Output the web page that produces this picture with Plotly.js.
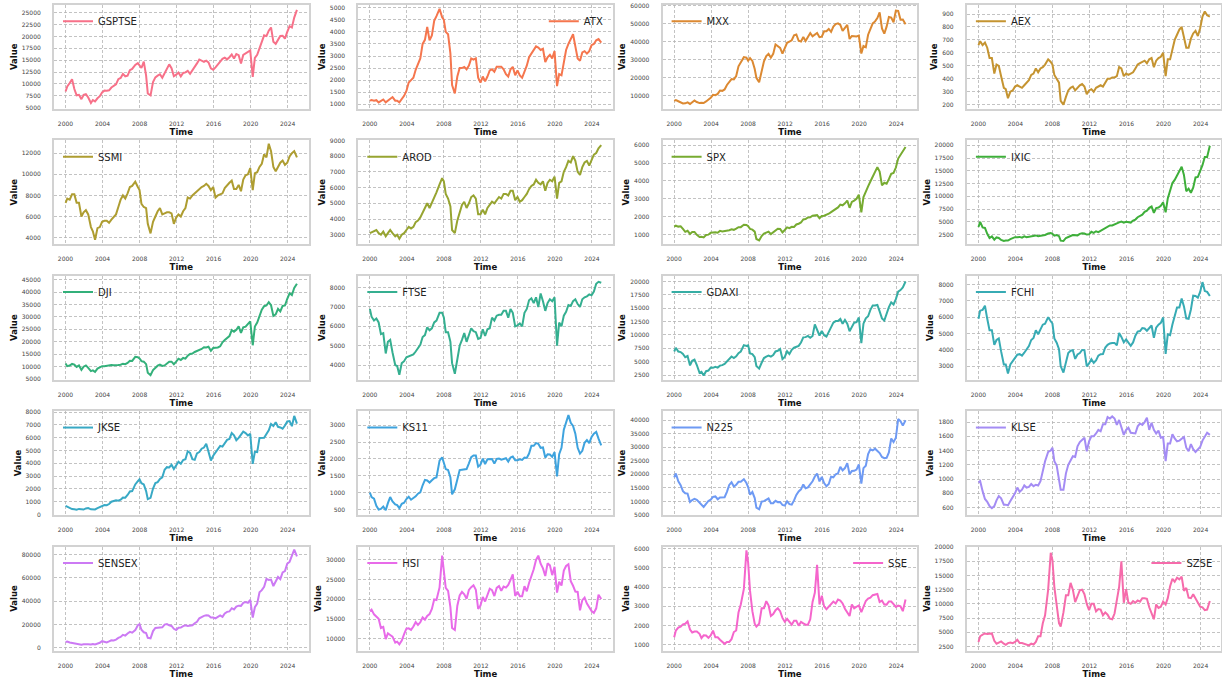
<!DOCTYPE html>
<html><head><meta charset="utf-8">
<script src="https://cdn.plot.ly/plotly-3.0.1.min.js"></script>
<style>html,body{margin:0;padding:0;background:#fff;} #chart{width:1222px;height:683px;}</style>
</head><body><div id="chart"></div>
<script>
const dates = [
 "2000-01-04","2000-03-10","2000-06-15","2000-09-15","2000-12-15",
 "2001-03-15","2001-06-15","2001-09-20","2001-12-15",
 "2002-03-15","2002-06-15","2002-09-30","2002-12-15",
 "2003-03-12","2003-06-15","2003-09-15","2003-12-15",
 "2004-03-15","2004-06-15","2004-09-15","2004-12-15",
 "2005-03-15","2005-06-15","2005-09-15","2005-12-15",
 "2006-03-15","2006-06-15","2006-09-15","2006-12-15",
 "2007-03-15","2007-07-15","2007-10-25","2007-12-31",
 "2008-03-15","2008-06-15","2008-09-15","2008-11-20",
 "2009-03-09","2009-06-15","2009-09-15","2009-12-15",
 "2010-03-15","2010-06-15","2010-09-15","2010-12-15",
 "2011-03-15","2011-06-15","2011-09-15","2011-12-15",
 "2012-03-15","2012-06-15","2012-09-15","2012-12-15",
 "2013-03-15","2013-06-15","2013-09-15","2013-12-15",
 "2014-03-15","2014-06-15","2014-09-15","2014-12-15",
 "2015-03-15","2015-06-12","2015-09-15","2015-12-15",
 "2016-03-15","2016-06-15","2016-09-15","2016-12-15",
 "2017-03-15","2017-06-15","2017-09-15","2017-12-15",
 "2018-03-15","2018-06-15","2018-09-15","2018-12-15",
 "2019-03-15","2019-06-15","2019-09-15","2019-12-15",
 "2020-03-23","2020-06-15","2020-09-15","2020-12-15",
 "2021-03-15","2021-06-15","2021-09-15","2021-12-15",
 "2022-03-15","2022-06-15","2022-09-15","2022-12-15",
 "2023-03-15","2023-06-15","2023-09-15","2023-12-15",
 "2024-03-15","2024-06-15","2024-09-15","2024-12-31"
];

const names = ["GSPTSE","ATX","MXX","AEX","SSMI","AROD","SPX","IXIC","DJI","FTSE","GDAXI","FCHI",
               "JKSE","KS11","N225","KLSE","SENSEX","HSI","SSE","SZSE"];

const GSPTSE = [8400,9460,10200,11000,8930, 7600,7700,6800,7690, 7850,7150,6000,6610, 6340,6980,7420,8220,
 8590,8550,8670,9250, 9610,9900,11010,11270, 12110,11610,11760,12910, 13160,14000,14400,13830,
 13350,14700,11750,8000, 7600,10380,11390,11750, 12040,11290,12370,13440, 14120,13300,11620,11950,
 12390,11600,12320,12430, 12750,12130,12790,13620, 14330,15150,14960,14630, 14900,14550,13300,13010,
 13490,14060,14730,15290, 15550,15180,15630,16210, 15370,16280,16070,14320, 16100,16380,16660,17060,
 11500,15500,16120,17430, 18700,20230,20070,21220, 21890,18860,18440,19380, 20100,20150,19540,20960,
 22170,21880,23960,25600];
const ATX = [1150,1180,1150,1170,1080, 1150,1200,1080,1140, 1200,1300,1150,1150, 1080,1230,1350,1550,
 1900,2000,2100,2430, 2650,2900,3500,3670, 4200,3650,3850,4460, 4650,4950,4600,4500,
 4000,3900,3100,1800, 1450,2150,2500,2500, 2550,2450,2600,2900, 2850,2900,2100,1900,
 2150,1950,2150,2400, 2450,2350,2550,2550, 2550,2450,2250,2150, 2450,2550,2200,2400,
 2200,2100,2350,2600, 2950,3100,3300,3400, 3350,3250,3300,2750, 2950,3050,2900,3200,
 1750,2250,2200,2800, 3250,3500,3700,3900, 3400,2900,2800,3150, 3200,3100,3200,3450,
 3500,3650,3700,3550];
const MXX = [7100,7500,6900,6400,5650, 5750,6300,5400,6400, 7300,6500,5900,6100, 5900,6800,7800,8800,
 10500,10300,11000,12900, 12700,13500,16000,17800, 19300,19100,21000,26400, 28700,31500,31200,29500,
 30900,29400,24900,20000, 17500,24400,29200,32100, 33300,31200,33300,38500, 37400,36600,33500,37000,
 39500,40200,40900,43700, 44100,40600,40200,42700, 40500,42700,44900,43100, 43900,45000,42600,42900,
 45900,45900,47200,45600, 48500,49900,50300,49400, 46100,47700,49500,41600, 43300,43200,43000,43500,
 33500,37700,37000,44000, 47200,50300,51400,53300, 56500,47500,44600,48500, 53900,53500,50900,57400,
 57300,52400,52500,49800];
const AEX = [660,690,660,680,640, 560,560,440,510, 500,420,330,320, 250,300,310,340,
 350,340,330,350, 370,390,430,440, 480,450,480,490, 510,550,530,510,
 430,400,370,230, 200,260,310,330, 340,310,330,350, 360,340,280,310,
 320,300,330,340, 350,340,370,400, 400,410,410,420, 490,480,420,440,
 430,440,450,480, 510,520,530,540, 520,550,560,490, 540,560,570,600,
 420,550,550,620, 700,740,780,800, 720,640,640,710, 750,770,730,790,
 880,920,890,880];
const SSMI = [7300,7700,7600,8100,8100, 7300,7300,6000,6400, 6600,6200,5000,4600, 3800,4900,5000,5500,
 5600,5600,5400,5700, 5900,6200,6900,7600, 8000,7700,8200,8800, 8900,9300,8800,8500,
 7200,6900,6800,5300, 4400,5500,6000,6500, 6800,6200,6300,6400, 6400,6300,5300,5900,
 6200,6000,6500,6800, 7800,7700,8000,8200, 8400,8600,8800,8900, 9100,8900,8500,8800,
 7800,8000,8100,8200, 8700,9000,9200,9400, 8600,8600,9000,8400, 9500,9900,10000,10600,
 8500,10100,10200,10700, 11000,11900,11600,12900, 12200,10700,10300,10700, 11100,11300,10900,11100,
 11700,12000,12200,11600];
const AROD = [3100,3150,3200,3300,3100, 3000,3200,2900,3100, 3300,3100,2900,3000, 2750,3000,3100,3300,
 3500,3400,3500,3800, 3900,4100,4400,4600, 5000,4700,5000,5400, 5700,6200,6600,6400,
 5600,5300,4800,3300, 3100,3900,4500,4900, 5100,4700,5000,5400, 5500,5300,4300,4300,
 4600,4300,4700,4900, 5100,5000,5200,5400, 5300,5600,5600,5500, 5800,5800,5200,5400,
 5100,5200,5400,5600, 5900,6100,6200,6500, 6300,6200,6400,5800, 6300,6500,6400,6700,
 5300,6300,6400,7000, 7300,7700,7600,8000, 7700,7000,6800,7300, 7600,7700,7400,7800,
 8100,8200,8500,8700];
const SPX = [1450,1500,1450,1470,1320, 1160,1220,1040,1150, 1150,990,870,880, 850,980,1000,1110,
 1130,1140,1110,1210, 1180,1190,1230,1250, 1300,1270,1340,1420, 1420,1550,1540,1470,
 1320,1280,1170,760, 680,920,1060,1115, 1170,1030,1140,1260, 1330,1320,1130,1260,
 1410,1360,1440,1430, 1570,1610,1680,1850, 1870,1960,1970,2060, 2070,2090,1920,2040,
 2060,2100,2170,2260, 2360,2420,2520,2680, 2640,2750,2900,2500, 2830,2900,3000,3230,
 2240,3100,3360,3700, 3970,4250,4450,4770, 4530,3750,3900,3850, 4100,4400,4450,4750,
 5250,5450,5650,5900];
const IXIC = [4000,5000,3900,3800,2650, 1840,2160,1500,1950, 1850,1460,1250,1340, 1340,1620,1790,2000,
 1990,2050,1900,2170, 2000,2060,2150,2200, 2340,2170,2260,2420, 2420,2700,2800,2650,
 2280,2400,2200,1320, 1270,1840,2120,2230, 2400,2300,2350,2650, 2780,2700,2500,2550,
 3060,2850,3150,2980, 3250,3450,3720,4050, 4300,4300,4550,4750, 4900,5050,4850,5000,
 4850,4850,5250,5450, 5900,6150,6400,6950, 7200,7750,8000,6750, 7700,7800,8150,8800,
 6860,9600,11000,12600, 13200,14100,15000,15800, 14200,11000,11500,10700, 11700,13700,13800,14800,
 16100,17700,17700,19900];
const DJI = [11300,10200,10450,11100,10800, 9900,10500,8700,10000, 10500,9500,8200,8500, 7900,9200,9600,10200,
 10200,10400,10300,10700, 10600,10500,10650,10800, 11200,11000,11500,12400, 12300,13950,13800,13300,
 12200,12000,11000,7600, 6600,8600,9700,10400, 10800,10300,10500,11400, 12000,12000,11000,12000,
 13200,12700,13500,13200, 14400,15100,15300,15900, 16200,16800,17100,17800, 17700,18000,16400,17500,
 17500,17700,18200,19800, 20700,21400,22300,24700, 24000,24800,26200,23600, 25800,26100,27200,28200,
 18600,26100,27700,30200, 32900,34300,34600,35900, 34700,30400,31000,33200, 32200,34400,34600,37300,
 39500,38800,41600,43300];
const FTSE = [6900,6500,6300,6400,6200, 5600,5650,4600,5200, 5300,4650,4000,3950, 3500,4100,4200,4400,
 4450,4500,4550,4700, 4900,5050,5450,5550, 5950,5800,5900,6200, 6300,6700,6700,6460,
 5700,5700,5200,4100, 3550,4350,5000,5300, 5650,5200,5550,5900, 5750,5700,5350,5400,
 5850,5500,5850,5900, 6450,6300,6550,6600, 6600,6800,6800,6450, 6900,6700,6000,6050,
 6150,6000,6700,6900, 7350,7450,7200,7500, 7000,7700,7300,6800, 7200,7400,7300,7500,
 5000,6200,6000,6550, 6750,7100,7050,7300, 7400,7150,7000,7400, 7500,7550,7650,7600,
 7800,8200,8300,8250];
const GDAXI = [6900,7600,6900,6800,6430, 5830,6060,4300,5160, 5400,4380,2900,3100, 2400,3220,3350,3900,
 3850,4050,3890,4260, 4350,4590,5040,5410, 5970,5680,6000,6600, 6900,8100,7950,8070,
 6530,6420,5830,4200, 3700,4800,5680,5960, 6150,5960,6230,6910, 7040,7370,5500,5900,
 6950,6420,7220,7610, 7800,7960,8600,9550, 9590,9830,9470,9800, 11970,11060,9900,10740,
 9960,9680,10510,11480, 12310,12600,12600,13000, 12100,12800,12100,10700, 11500,12300,12400,13250,
 8450,12100,13100,13500, 14700,15500,15500,15600, 14400,13100,12700,14000, 15200,16100,15700,16700,
 18100,18400,18900,20000];
const FCHI = [5900,6400,6450,6700,5900, 5200,5200,4300,4600, 4700,3900,3100,3100, 2550,3100,3300,3560,
 3700,3730,3640,3820, 4050,4230,4600,4720, 5200,4950,5250,5540, 5600,6000,5750,5610,
 4700,4430,4030,3000, 2600,3140,3800,3940, 3970,3440,3710,3800, 3990,3980,2980,3160,
 3420,3200,3350,3640, 3730,3740,4140,4300, 4390,4420,4420,4270, 5030,4790,4460,4640,
 4400,4240,4450,4860, 5120,5150,5330,5310, 5170,5320,5490,4730, 5350,5540,5650,5980,
 3750,4950,4900,5550, 6060,6600,6600,7150, 6660,5920,5900,6470, 7320,7300,7200,7550,
 8150,7600,7550,7300];
const JKSE = [680,600,520,430,420, 380,440,390,390, 480,510,410,420, 400,500,600,690,
 740,730,820,1000, 1080,1120,1080,1160, 1320,1310,1530,1800, 1830,2350,2600,2750,
 2450,2350,1830,1200, 1300,2030,2460,2530, 2780,2910,3500,3700, 3680,3890,3550,3820,
 4120,3960,4260,4320, 4940,4820,4320,4270, 4770,4880,5140,5230, 5520,4910,4220,4590,
 4850,5020,5360,5300, 5570,5830,5900,6360, 6190,5800,5980,6190, 6470,6360,6170,6300,
 3950,4900,4870,5980, 5990,5990,6290,6580, 7070,6910,7200,6850, 6800,6700,6950,7270,
 7300,6900,7700,7100];
const KS11 = [1000,870,820,610,500, 520,590,480,690, 870,740,650,630, 540,670,700,810,
 880,790,840,890, 970,1010,1220,1380, 1360,1300,1370,1430, 1450,1950,2050,1900,
 1700,1670,1450,950, 1100,1390,1670,1680, 1690,1700,1870,2050, 2100,2100,1770,1830,
 2010,1850,1990,1990, 2000,1860,2000,2010, 1980,2000,2020,1920, 2040,2070,1960,1960,
 1990,1970,2040,2030, 2160,2390,2390,2470, 2450,2330,2340,2040, 2140,2130,2060,2200,
 1480,2140,2330,2870, 3060,3300,3070,2980, 2750,2330,2160,2240, 2480,2560,2470,2650,
 2750,2800,2600,2400];
const N225 = [18900,20300,17400,16000,13800, 13000,12900,9800,10500, 11000,10600,9400,8600, 7970,9080,10200,10680,
 11700,11860,10820,11490, 11670,11580,13570,16100, 17060,15500,16130,17230, 17290,18200,16800,15300,
 12500,13480,11260,7700, 7100,9960,10130,10550, 11090,9380,9370,10230, 9760,9820,8700,8450,
 10080,9000,8870,10400, 12400,13680,14460,16290, 14830,15160,16170,17450, 19200,20240,17390,19030,
 16760,15580,16450,19110, 18910,20030,20360,22760, 21450,22300,24120,20010, 21200,21280,21750,23660,
 16550,22290,23180,27440, 29180,28790,29450,28790, 27820,26390,25940,26090, 28040,33190,31860,33460,
 40370,39580,37920,39890];
const KLSE = [950,970,830,720,680, 620,590,620,700, 760,730,640,640, 630,690,740,800,
 880,820,850,910, 880,890,930,900, 920,910,970,1100, 1250,1380,1400,1440,
 1250,1190,1020,850, 850,1080,1200,1270, 1320,1310,1460,1520, 1550,1580,1390,1530,
 1600,1600,1640,1690, 1670,1770,1770,1870, 1850,1880,1850,1760, 1830,1710,1620,1690,
 1720,1650,1650,1640, 1740,1780,1760,1800, 1860,1690,1790,1690, 1640,1680,1580,1590,
 1250,1500,1500,1630, 1570,1530,1540,1570, 1590,1440,1390,1490, 1420,1380,1420,1450,
 1540,1590,1650,1620];
const SENSEX = [5200,5500,4750,4450,3970, 3600,3450,2800,3260, 3470,3240,2990,3380, 3050,3600,4450,5840,
 5590,4800,5600,6600, 6500,7190,8630,9400, 11280,10610,12450,13790, 13070,15300,19500,20300,
 15640,13460,12860,8700, 8300,14490,17130,17460, 17530,17700,20070,20510, 19450,18850,16450,15450,
 17400,17430,18760,19430, 18840,19400,19380,21170, 22390,25410,26630,27500, 27960,27780,26150,26120,
 25340,26990,27860,26630, 29620,30920,31280,34060, 32970,35420,36230,36070, 38670,39390,38670,41250,
 26000,34920,38070,47750, 49510,52480,59130,58250, 58570,53020,57430,60840, 58990,64720,65830,72240,
 73650,79030,84300,78500];
const HSI = [17000,17400,16200,15650,15100, 12760,13040,9950,11400, 11000,10600,9070,9320, 8630,9580,11230,12580,
 12680,12280,13120,14230, 13520,14200,15430,14880, 15800,16270,17540,19960, 19800,23000,31000,27810,
 22850,22100,18020,12800, 12300,18380,20960,21870, 21240,20130,22360,23040, 23530,22400,17590,18430,
 20560,19440,20840,22660, 22300,20800,22860,23310, 22150,23190,22930,23610, 24900,26250,20850,21910,
 20780,20790,23300,22000, 24110,25760,27550,29920, 31000,28960,27790,25850, 29050,28540,26090,28190,
 21700,24430,23460,27230, 28380,28830,24580,23400, 21950,21860,17220,19780, 20400,18920,17810,17050,
 16540,17720,21130,20060];
const SSE = [1400,1750,1900,1950,2070, 2100,2220,1800,1650, 1700,1700,1580,1360, 1500,1490,1370,1500,
 1740,1400,1400,1270, 1150,1060,1160,1160, 1300,1670,1750,2680, 3100,3900,5900,5260,
 3800,2750,2100,1950, 2100,2900,2900,3270, 3050,2500,2600,2800, 2900,2750,2400,2200,
 2350,2200,2050,2250, 2250,2000,2200,2120, 2050,2050,2330,3230, 3700,5150,3100,3550,
 3000,2850,3000,3100, 3250,3150,3350,3300, 3150,2880,2680,2500, 3100,2900,2980,3050,
 2700,2950,3280,3400, 3450,3580,3600,3640, 3230,3300,3100,3090, 3250,3250,3120,2970,
 3040,3000,2750,3350];
const SZSE = [3300,4300,4600,4800,4700, 4800,4800,3500,3000, 3200,3400,3000,2800, 3100,3200,3100,3300,
 3700,3100,3100,3000, 2900,2700,3000,2850, 3300,4300,4300,6600, 8000,12500,19000,17700,
 13000,9500,6600,6000, 8500,11500,11500,13700, 12500,10300,11500,12400, 12500,11700,10000,8900,
 10000,10000,8700,9100, 9000,8000,8500,8100, 7400,7300,8300,11000, 13000,17500,10200,12600,
 10200,10000,10500,10200, 10600,10400,11000,11000, 10900,9400,8200,7300, 9900,9300,9500,10400,
 9900,11000,13100,14400, 13900,14600,14300,14800, 12300,12800,11100,11000, 11700,11000,10400,9500,
 9400,8900,9000,10500];

const seriesValues = [GSPTSE,ATX,MXX,AEX,SSMI,AROD,SPX,IXIC,DJI,FTSE,GDAXI,FCHI,JKSE,KS11,N225,KLSE,SENSEX,HSI,SSE,SZSE];
const xTickYears = [2000,2004,2008,2012,2016,2020,2024];

// styling / layout
const colors = ["#f77189","#f5764e","#dc8932","#c59431","#ae9d31","#97a431","#77ab31","#3eaf3a",
  "#33b07a","#35af90","#36ada4","#37abb4","#38a9c5","#3ea3de","#6e9af4","#a48cf4",
  "#cc7af4","#e86be9","#f565cc","#f66bab"];
const yDticks = [2500,500,10000,100,2000,1000,1000,2500,5000,1000,2500,1000,1000,500,5000,200,20000,5000,1000,2500];
const yRanges = [[4790,26680],[818,5124],[2760,60720],[169,972],[3380,13240],[2400,9020],[470,6280],[630,21000],
  [4800,46600],[3250,8620],[1650,21100],[2170,8550],[-40,8080],[336,3420],[5000,43300],[494,1955],
  [-2150,86900],[7090,33300],[714,6100],[1800,20090]];
const legendRight = ["ATX","SSE","SZSE"];

const W = 1222, H = 683;
const colLeft0 = 54, colStep = 304.3, plotW = 254.5;
const rowTop0 = 4.7, rowStep = 135.45, plotH = 104;
const FONT = "DejaVu Sans, Arial, sans-serif";

const t0 = new Date(dates[0]).getTime(), t1 = new Date(dates[dates.length-1]).getTime();
const pad = 0.05*(t1-t0);
const xRange = [new Date(t0-pad).toISOString().slice(0,10), new Date(t1+pad).toISOString().slice(0,10)];

const data = [];
const layout = {
  width: W, height: H, margin: {l:0,r:0,t:0,b:0},
  paper_bgcolor: "#ffffff", plot_bgcolor: "#ffffff",
  font: {family: FONT, color: "#262626"},
  showlegend: true
};

names.forEach((name, i) => {
  const r = Math.floor(i/4), c = i % 4;
  const k = i === 0 ? "" : String(i+1);
  const left = colLeft0 + c*colStep, top = rowTop0 + r*rowStep;
  const xd = [left/W, (left+plotW)/W];
  const yd = [1-(top+plotH)/H, 1-top/H];
  const vals = seriesValues[i];
  if (vals.length !== dates.length) console.error(name, vals.length);
  const legId = i === 0 ? "legend" : "legend"+(i+1);
  data.push({
    type: "scatter", mode: "lines", x: dates, y: vals, name: name,
    xaxis: "x"+k, yaxis: "y"+k, legend: legId,
    line: {color: colors[i], width: 2}, hoverinfo: "x+y"
  });
  const common = {
    showgrid: true, gridcolor: "#b4b4b4", griddash: "3px,2px", gridwidth: 0.8,
    showline: true, mirror: true, linecolor: "#d2d2d2", linewidth: 2,
    zeroline: false, ticks: "", tickfont: {size: 6, color: "#444444", family: FONT}
  };
  layout["xaxis"+k] = Object.assign({}, common, {
    domain: xd, anchor: "y"+k, type: "date", range: xRange,
    tickvals: xTickYears.map(y => y+"-01-01"), ticktext: xTickYears.map(String),
    ticklabelstandoff: 8,
    title: {text: "Time", font: {size: 8.5, weight: "bold", color: "#111", family: FONT}, standoff: 3}
  });
  layout["yaxis"+k] = Object.assign({}, common, {
    domain: yd, anchor: "x"+k, range: yRanges[i],
    dtick: yDticks[i], tick0: 0, tickformat: "d",
    ticklabelstandoff: 10,
    title: {text: "Value", font: {size: 8.5, weight: "bold", color: "#111", family: FONT}, standoff: 3}
  });
  const right = legendRight.includes(name);
  layout[legId] = {
    x: right ? (left+plotW-4)/W : (left+4)/W,
    xanchor: right ? "right" : "left",
    y: 1-(top+2)/H, yanchor: "top",
    bgcolor: "rgba(255,255,255,0)", borderwidth: 0,
    font: {size: 10, color: "#222", family: FONT},
    itemwidth: 30
  };
});

Plotly.newPlot("chart", data, layout, {displayModeBar: false, staticPlot: true});
</script>
</body></html>
